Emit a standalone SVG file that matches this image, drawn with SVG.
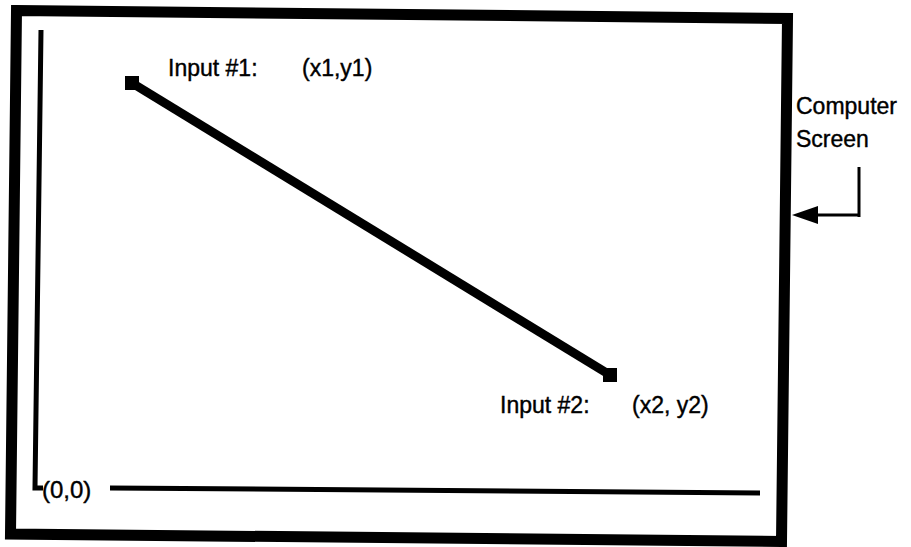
<svg xmlns="http://www.w3.org/2000/svg" width="911" height="547" viewBox="0 0 911 547">
<style>
text{font-family:"Liberation Sans",Arial,sans-serif;fill:#000;stroke:#000;stroke-width:0.4}
.lbl{font-size:23px}
.frame{fill:none;stroke:#000;stroke-width:11;stroke-linejoin:miter}
.axis{fill:none;stroke:#000;stroke-width:5}
</style>
<rect width="911" height="547" fill="#fff"/>
<g id="screen">
<path class="frame" d="M16.5,10.5 L787.5,18.5 L781.5,541.5 L10.5,534 Z"/>
</g>
<g id="axes">
<path class="axis" d="M41,30 L35,488 L43,488"/>
<path class="axis" d="M110,488 L760,493"/>
<text x="42" y="498" style="font-size:24px">(0,0)</text>
</g>
<g id="point1">
<rect x="125" y="76" width="14" height="14" fill="#000"/>
<text class="lbl" x="168" y="76">Input #1:</text>
<text class="lbl" x="302" y="76">(x1,y1)</text>
</g>
<g id="point2">
<rect x="603" y="368" width="14" height="14" fill="#000"/>
<text class="lbl" x="500" y="413">Input #2:</text>
<text class="lbl" x="632" y="413">(x2, y2)</text>
</g>
<g id="label">
<text class="lbl" x="796" y="114">Computer</text>
<text class="lbl" x="796" y="147">Screen</text>
</g>
<g id="connectors">
<path d="M132,83 L610,375" stroke="#000" stroke-width="9" fill="none"/>
<path d="M859,167 L859,217" stroke="#000" stroke-width="3" fill="none"/>
<path d="M859,215 L815,215" stroke="#000" stroke-width="3" fill="none"/>
<path d="M792,215 L818,206 L818,224 Z" fill="#000"/>
</g>
</svg>
